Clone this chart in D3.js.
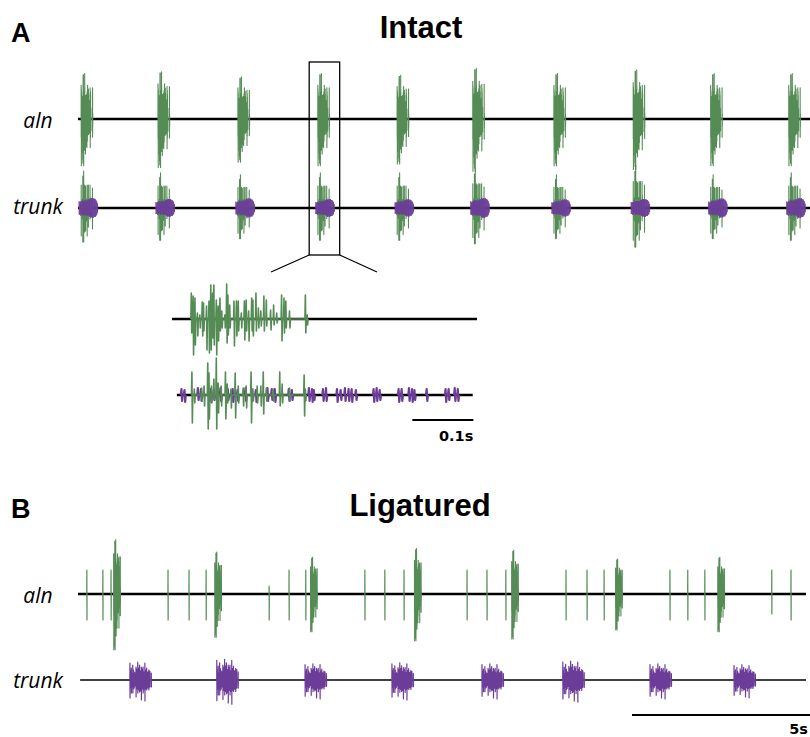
<!DOCTYPE html>
<html>
<head>
<meta charset="utf-8">
<script src="https://cdn.jsdelivr.net/npm/d3@7"></script>
<style>
  body { margin: 0; background: #fff; }
  svg { display: block; }
</style>
</head>
<body>
<div id="chart"></div>
<script>
const W = 810, H = 737;
const GREEN = "#558c55", PURPLE = "#6c3d98";

// ---- data ----
// aln burst (zoomed inset): [ms from window start, up, down] in µV
const alnSpikes = [
  [32,26,14],[35,23,36],[38,21,26],[42,6,17],[46,4,9],[50,17,17],[52,16,12],[57,13,31],
  [61,18,34],[64,34,31],[67,26,19],[69,34,26],[73,19,36],[76,13,22],[79,21,12],[82,8,9],
  [87,4,9],[90,35,24],[92,24,16],[95,14,9],[102,18,27],[106,18,17],[109,18,12],[114,6,9],
  [119,18,21],[122,19,12],[126,8,22],[131,21,12],[133,19,17],[138,26,12],[142,11,9],[146,8,7],
  [151,23,12],[155,19,7],[162,9,11],[167,14,6],[172,6,4],[180,24,22],[184,21,14],[187,18,9],
  [193,8,9],[219,24,14],[222,4,6]
];
// trunk burst, green component (inset)
const trunkGreenSpikes = [
  [33,23,28],[37,6,8],[49,7,6],[53,9,11],[59,32,34],[61,22,24],[65,9,8],[69,16,4],
  [73,37,34],[76,12,18],[81,9,11],[88,23,24],[91,11,8],[97,6,13],[104,22,23],[109,9,8],
  [117,7,11],[122,9,13],[130,23,28],[133,6,6],[140,9,8],[146,9,11],[150,23,19],[155,7,6],
  [166,6,6],[177,23,11],[181,11,8],[193,7,6],[217,20,21],[219,6,6]
];
// trunk burst, purple component (inset): [ms, up, down]
const trunkPurpleSpikes = [
  [16,6,6],[21,5,7],[43,7,5],[48,6,6],[64,6,7],[69,5,5],[80,7,6],[92,6,5],[100,6,7],
  [108,5,6],[121,7,6],[131,6,6],[138,5,7],[157,7,6],[164,6,5],[169,6,7],[192,6,6],
  [197,5,5],[225,7,6],[230,6,7],[233,5,5],[248,6,6],[253,7,6],[271,6,7],[277,5,5],
  [284,7,6],[290,6,6],[295,6,7],[302,5,5],[331,6,7],[336,7,6],[341,5,5],[372,6,7],
  [377,6,6],[389,7,6],[394,6,7],[398,5,5],[418,6,6],[449,6,7],[454,6,5],[464,7,6],[469,6,6]
];
// trunk purple as it reads in the compressed overview: [ms after onset, up, down]
const intactPurpleOverview = [
  [0,6,6],[12,5,6],[24,6,7],[36,5,5],[48,6,6],[60,7,6],[72,6,7],[84,7,6],[96,6,6],
  [108,7,7],[120,6,6],[132,7,7],[144,7,6],[156,8,7],[168,8,8],[180,9,8],[192,8,9],
  [204,9,8],[216,9,9],[228,8,9],[240,9,8],[252,8,8],[264,8,8],[276,7,7],[288,6,6],[300,4,4]
];

// Intact overview: burst onsets (s) and amplitude gains
const intactOnsets = [0.02, 1.28, 2.59, 3.90, 5.20, 6.44, 7.77, 9.07, 10.34, 11.62];
const intactAlnGain = [1.3, 1.35, 1.2, 1.3, 1.25, 1.45, 1.3, 1.4, 1.3, 1.3];
const intactTrunkGain = [1.0, 0.95, 0.9, 0.95, 0.95, 1.05, 0.9, 1.15, 0.9, 0.95];
const intactPurpleGain = [1.1, 1.0, 1.05, 1.0, 0.95, 1.1, 0.95, 1.0, 1.05, 1.1];
const zoomWindow = [3.79, 4.29]; // s, region shown in the inset

// Ligatured: aln bursts, isolated aln spikes, trunk bursts
const ligAlnOnsets = [0.97, 3.81, 6.50, 9.42, 12.15, 15.07, 17.94];
const ligAlnGain = [1.55, 1.2, 1.05, 1.3, 1.25, 1.0, 1.05];
const ligAlnSingles = [
  [0.25,24,26],[0.70,24,26],[0.93,24,26],[2.53,24,26],[3.12,24,26],[3.60,24,26],
  [5.37,8,26],[5.93,24,26],[6.40,24,26],[8.06,24,26],[8.62,24,26],[9.16,24,26],
  [10.93,24,26],[11.49,24,26],[12.02,24,26],[13.71,24,26],[14.30,24,26],[14.78,24,26],
  [16.63,24,26],[17.13,24,26],[17.61,24,26],[19.49,24,20],[20.03,24,26]
];
const ligTrunkBurst = [
  [0.00,17,18],[0.02,9,8],[0.04,12,13],[0.06,6,7],[0.08,15,13],[0.10,10,9],[0.12,8,8],
  [0.15,7,6],[0.17,13,17],[0.19,11,9],[0.22,18,13],[0.24,12,10],[0.27,15,12],[0.29,9,11],
  [0.32,13,20],[0.34,11,9],[0.37,13,13],[0.39,8,10],[0.42,17,21],[0.44,10,9],[0.47,12,10],
  [0.50,8,8],[0.53,10,10],[0.56,9,7],[0.60,7,7]
];
const ligTrunkOnsets = [1.46, 3.90, 6.38, 8.82, 11.35, 13.62, 16.07, 18.43];
const ligTrunkGain = [1.0, 1.15, 0.9, 0.95, 0.9, 1.05, 0.9, 0.85];

// ---- svg ----
const svg = d3.select("#chart").append("svg")
  .attr("width", W).attr("height", H);

const xA = d3.scaleLinear().domain([0, 12]).range([78, 810]);
const xIn = d3.scaleLinear().domain([0, 500]).range([172, 477]);
const xB = d3.scaleLinear().domain([0, 20.45]).range([78, 806]);
const amp = base => d3.scaleLinear().domain([-40, 40]).range([base + 40, base - 40]);

const yAln = amp(119), yTrunk = amp(208);
const yInAln = amp(319), yInTrunk = amp(395);
const yBAln = amp(594), yBTrunk = amp(680);

// spike list -> trace points [t, v]
function burst(spikes, onset, unit, gain, w) {
  const pts = [];
  spikes.forEach(([t, up, dn]) => {
    const tt = onset + t * unit;
    pts.push([tt - w, 0], [tt - w / 3, up * gain], [tt + w / 3, -dn * gain], [tt + w, 0]);
  });
  return pts;
}

function drawTrace(pts, x, y, color, sw) {
  svg.append("path")
    .datum(pts)
    .attr("d", d3.line().x(d => x(d[0])).y(d => y(d[1])))
    .attr("fill", "none")
    .attr("stroke", color)
    .attr("stroke-width", sw)
    .attr("stroke-linejoin", "round");
}

// each spike as its own stroke, so the black trace shows between them
function drawSpikes(spikes, onset, unit, gain, w, x, y, color, sw) {
  spikes.forEach(s => drawTrace(burst([s], onset, unit, gain, w), x, y, color, sw));
}

function baseline(x, y, t0, t1, sw) {
  drawTrace([[t0, 0], [t1, 0]], x, y, "#000", sw);
}

function label(txt, x, y, opts) {
  const t = svg.append("text").attr("x", x).attr("y", y).text(txt);
  Object.entries(opts).forEach(([k, v]) => t.attr(k, v));
  return t;
}

const boldSans = { "font-family": "Liberation Sans, Arial, sans-serif", "font-weight": "bold" };
const italic = { "font-family": "Open Sans, sans-serif", "font-style": "italic", "font-size": 21, "text-anchor": "middle" };
const barFont = { "font-family": "DejaVu Sans, sans-serif", "font-weight": "bold", "font-size": 14.5, "text-anchor": "end" };

// ---- panel A ----
label("A", 11, 42, { ...boldSans, "font-size": 27 });
label("Intact", 421, 38, { ...boldSans, "font-size": 31, "text-anchor": "middle" });
label("aln", 38, 128, italic);
label("trunk", 38, 214, italic);

baseline(xA, yAln, 0, 12, 2.6);
baseline(xA, yTrunk, 0, 12, 2.6);
intactOnsets.forEach((on, i) => {
  drawTrace(burst(alnSpikes, on, 0.001, intactAlnGain[i], 0.0008), xA, yAln, GREEN, 1.1);
  drawTrace(burst(trunkGreenSpikes, on, 0.001, intactTrunkGain[i], 0.0008), xA, yTrunk, GREEN, 1.1);
  drawTrace(burst(intactPurpleOverview, on, 0.001, intactPurpleGain[i], 0.002), xA, yTrunk, PURPLE, 0.8);
});

// zoom box + connectors
const bx0 = xA(zoomWindow[0]), bx1 = xA(zoomWindow[1]);
svg.append("rect")
  .attr("x", bx0).attr("y", 62).attr("width", bx1 - bx0).attr("height", 193)
  .attr("fill", "none").attr("stroke", "#000").attr("stroke-width", 1.3);
svg.append("line").attr("x1", bx0).attr("y1", 255).attr("x2", 271).attr("y2", 272)
  .attr("stroke", "#000").attr("stroke-width", 1.3);
svg.append("line").attr("x1", bx1).attr("y1", 255).attr("x2", 377).attr("y2", 272)
  .attr("stroke", "#000").attr("stroke-width", 1.3);

// inset
baseline(xIn, yInAln, 0, 500, 2.4);
baseline(xIn, yInTrunk, 8, 493, 2.4);
drawTrace(burst(alnSpikes, 0, 1, 1, 1.1), xIn, yInAln, GREEN, 1.6);
drawSpikes(trunkPurpleSpikes, 0, 1, 1, 1.6, xIn, yInTrunk, PURPLE, 2.2);
drawTrace(burst(trunkGreenSpikes, 0, 1, 1, 1.1), xIn, yInTrunk, GREEN, 1.6);

svg.append("line")
  .attr("x1", xIn(394)).attr("x2", xIn(494)).attr("y1", 420).attr("y2", 420)
  .attr("stroke", "#000").attr("stroke-width", 2);
label("0.1s", xIn(494), 441, barFont);

// ---- panel B ----
label("B", 11, 518, { ...boldSans, "font-size": 27 });
label("Ligatured", 420, 516, { ...boldSans, "font-size": 31, "text-anchor": "middle" });
label("aln", 38, 603, italic);
label("trunk", 38, 688, italic);

baseline(xB, yBAln, 0, 20.45, 2.6);
baseline(xB, yBTrunk, 0.06, 20.45, 1.6);
drawSpikes(ligAlnSingles, 0, 1, 1, 0.004, xB, yBAln, GREEN, 1.2);
ligAlnOnsets.forEach((on, i) => {
  drawTrace(burst(alnSpikes, on, 0.001, ligAlnGain[i], 0.001), xB, yBAln, GREEN, 1.1);
});
ligTrunkOnsets.forEach((on, i) => {
  drawTrace(burst(ligTrunkBurst, on, 1, ligTrunkGain[i], 0.004), xB, yBTrunk, PURPLE, 1.2);
});

const fiveS = xB(5) - xB(0);
svg.append("line")
  .attr("x1", W - fiveS).attr("x2", W).attr("y1", 715).attr("y2", 715)
  .attr("stroke", "#000").attr("stroke-width", 2);
label("5s", W - 2, 734, barFont);
</script>
</body>
</html>
